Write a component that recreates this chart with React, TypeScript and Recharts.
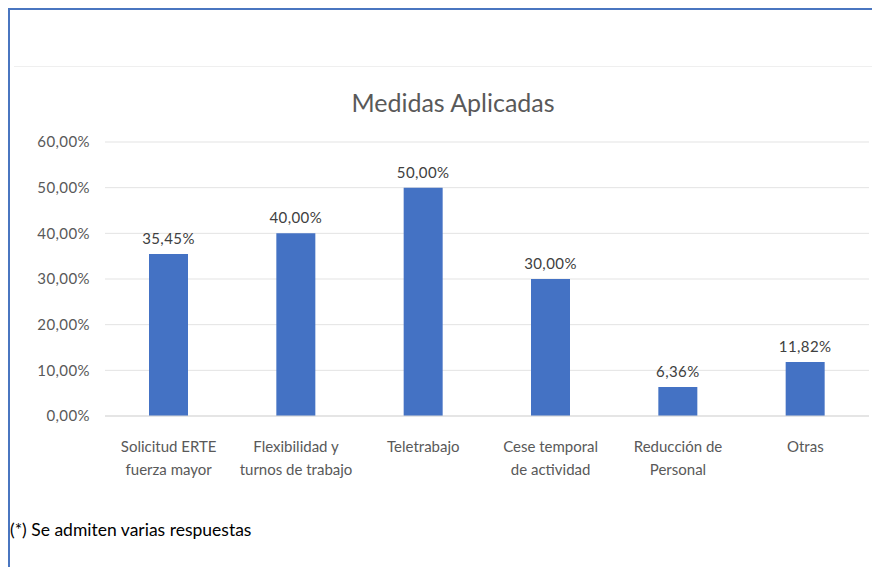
import { BarChart, Bar, XAxis, YAxis, CartesianGrid, LabelList } from "recharts";

const categories = [
  ["Solicitud ERTE", "fuerza mayor"],
  ["Flexibilidad y", "turnos de trabajo"],
  ["Teletrabajo"],
  ["Cese temporal", "de actividad"],
  ["Reducción de", "Personal"],
  ["Otras"],
];
const values = [0.3545, 0.4, 0.5, 0.3, 0.0636, 0.1182];
const yTicks = [0, 0.1, 0.2, 0.3, 0.4, 0.5, 0.6];

const data = categories.map((lines, i) => ({ name: lines.join(" "), value: values[i], idx: i }));

const pct = (v: number) => (v * 100).toFixed(2).replace(".", ",") + "%";

const FONT = "Lato, 'Open Sans', sans-serif";

function CategoryTick(props: any) {
  const { x, y, payload } = props;
  const lines = categories[payload.index] ?? [payload.value];
  return (
    <text x={x} y={y} textAnchor="middle" fill="#595959" fontSize={15} fontFamily={FONT}>
      {lines.map((l, i) => (
        <tspan key={i} x={x} dy={i === 0 ? 28 : 23}>
          {l}
        </tspan>
      ))}
    </text>
  );
}

export default function App() {
  return (
    <div
      style={{
        position: "relative",
        width: 872,
        height: 559,
        borderTop: "2px solid #4a76c0",
        borderLeft: "2px solid #4a76c0",
        boxSizing: "border-box",
        background: "#fff",
        fontFamily: FONT,
      }}
    >
      <div style={{ position: "absolute", left: 4, right: 0, top: 56, height: 1, background: "#efefef" }} />
      <div
        style={{
          position: "absolute",
          left: 0,
          width: 886,
          top: 77,
          textAlign: "center",
          fontSize: 25,
          color: "#595959",
        }}
      >
        Medidas Aplicadas
      </div>
      <div style={{ position: "absolute", left: -10, top: -10 }}>
        <BarChart
          width={880}
          height={500}
          data={data}
          margin={{ top: 142, right: 11, bottom: 24, left: 0 }}
        >
          <CartesianGrid vertical={false} stroke="#e3e3e3" />
          <XAxis
            dataKey="name"
            interval={0}
            height={60}
            tickLine={false}
            axisLine={{ stroke: "#d9d9d9" }}
            tick={<CategoryTick />}
          />
          <YAxis
            width={105}
            domain={[0, 0.6]}
            ticks={yTicks}
            tickFormatter={pct}
            tickLine={false}
            axisLine={false}
            tickMargin={9}
            tick={{ fill: "#595959", fontSize: 15, fontFamily: FONT, letterSpacing: 0.4 }}
          />
          <Bar dataKey="value" fill="#4472c4" barSize={39} isAnimationActive={false}>
            <LabelList
              dataKey="value"
              position="top"
              offset={10}
              formatter={(v: any) => pct(Number(v))}
              fill="#404040"
              fontSize={15}
              fontFamily={FONT}
              letterSpacing={0.4}
            />
          </Bar>
        </BarChart>
      </div>
      <div style={{ position: "absolute", left: 0, top: 509, fontSize: 17.5, color: "#000" }}>
        (*) Se admiten varias respuestas
      </div>
    </div>
  );
}
